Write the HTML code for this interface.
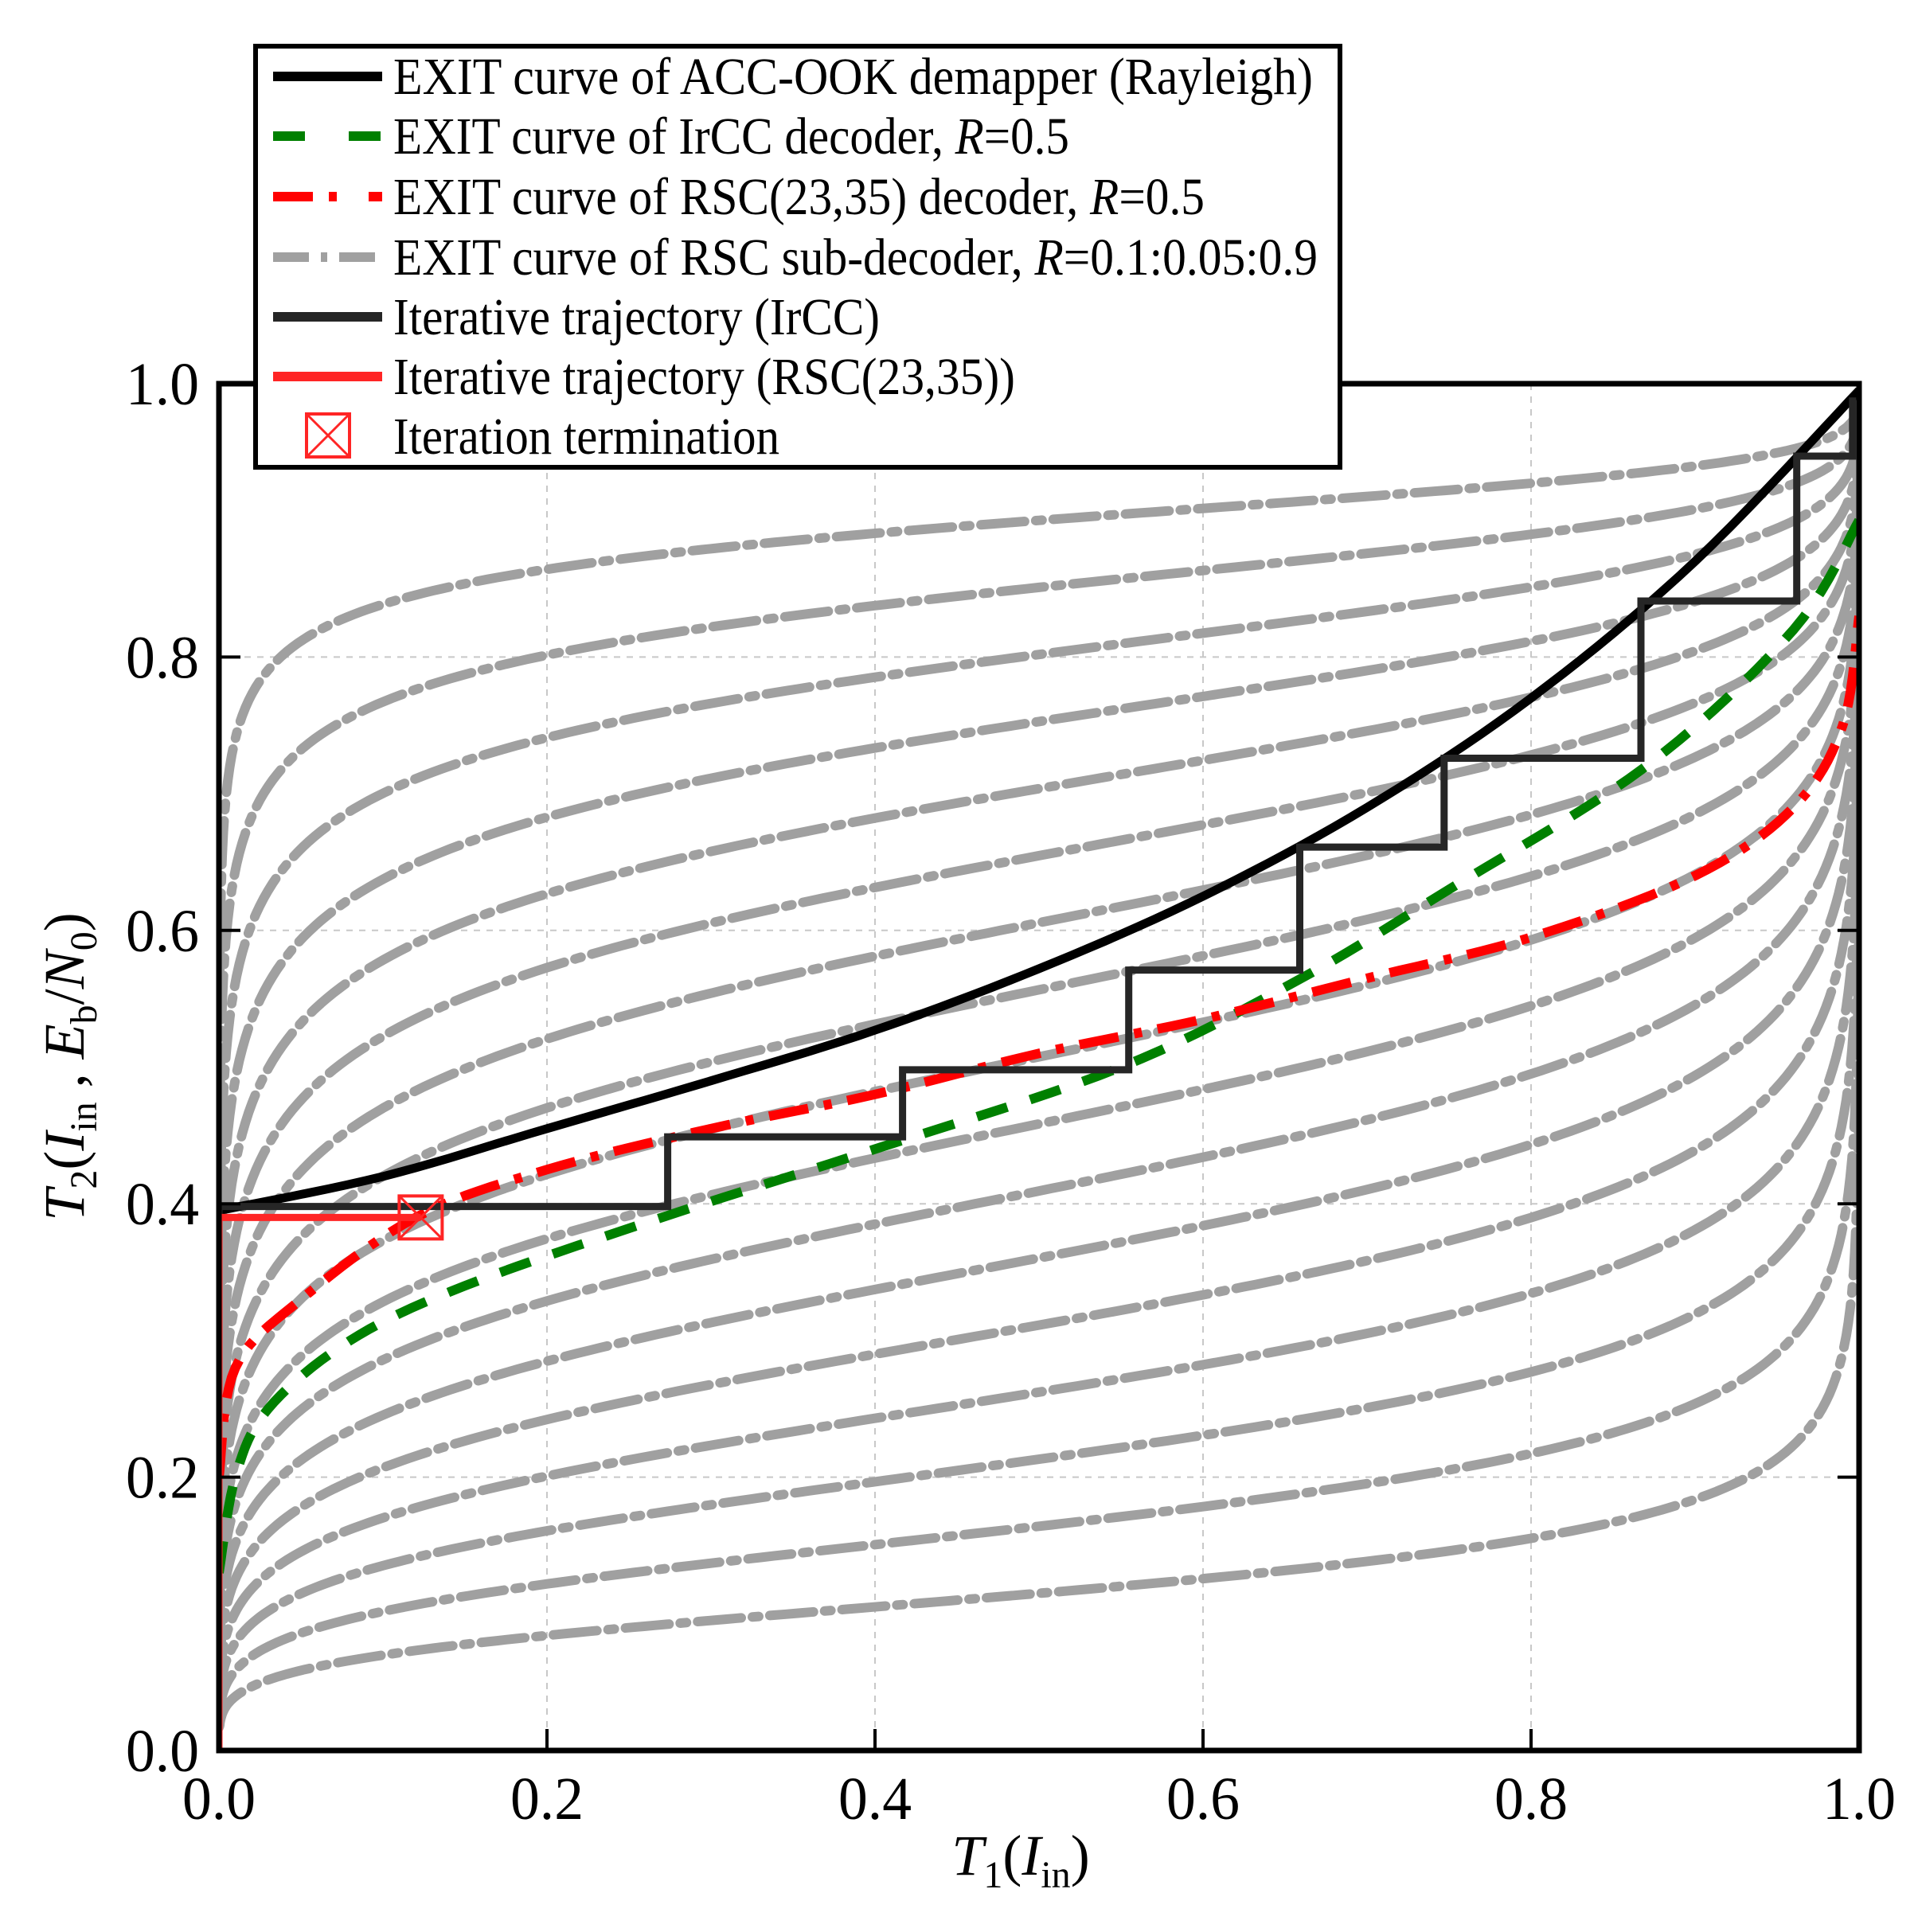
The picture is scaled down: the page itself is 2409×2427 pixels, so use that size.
<!DOCTYPE html>
<html><head><meta charset="utf-8"><style>
html,body{margin:0;padding:0;background:#fff}
svg{display:block}
text{font-family:"Liberation Serif",serif}
</style></head><body>
<svg id="s" width="2409" height="2427" xmlns="http://www.w3.org/2000/svg">
<defs><clipPath id="c"><rect x="275" y="482" width="2060" height="1717"/></clipPath></defs>
<g id="grid"></g>
<g id="curves" clip-path="url(#c)"></g>
<rect x="275" y="482" width="2060" height="1717" fill="none" stroke="#000" stroke-width="7"/>
<g id="ticks"></g>
<g font-size="76" text-anchor="end" id="ylab"></g>
<g font-size="76" text-anchor="middle" id="xlab"></g>
<text x="1282" y="2355" font-size="72" text-anchor="middle"><tspan font-style="italic">T</tspan><tspan font-size="48" dy="16">1</tspan><tspan dy="-16">(</tspan><tspan font-style="italic">I</tspan><tspan font-size="48" dy="16">in</tspan><tspan dy="-16">)</tspan></text>
<text transform="translate(105,1340) rotate(-90)" font-size="72" text-anchor="middle"><tspan font-style="italic">T</tspan><tspan font-size="48" dy="16">2</tspan><tspan dy="-16">(</tspan><tspan font-style="italic">I</tspan><tspan font-size="48" dy="16">in</tspan><tspan dy="-16"> , </tspan><tspan font-style="italic">E</tspan><tspan font-size="48" dy="16">b</tspan><tspan dy="-16">/</tspan><tspan font-style="italic">N</tspan><tspan font-size="48" dy="16">0</tspan><tspan dy="-16">)</tspan></text>
<g id="legend">
<rect x="321" y="58" width="1362" height="529" fill="#fff" stroke="#000" stroke-width="6"/>
<line x1="343" y1="96" x2="480" y2="96" stroke="#000" stroke-width="12"/>
<line x1="343" y1="171" x2="480" y2="171" stroke="#008000" stroke-width="12" stroke-dasharray="40 55"/>
<line x1="343" y1="247" x2="480" y2="247" stroke="#f00" stroke-width="12" stroke-dasharray="50 20 10 40"/>
<line x1="343" y1="323" x2="480" y2="323" stroke="#a0a0a0" stroke-width="12" stroke-dasharray="45 15 8 15 45"/>
<line x1="343" y1="398" x2="480" y2="398" stroke="#262626" stroke-width="12"/>
<line x1="343" y1="473" x2="480" y2="473" stroke="#ff2525" stroke-width="12"/>
<rect x="385" y="520" width="54" height="54" fill="none" stroke="#ff2525" stroke-width="4"/>
<path d="M385 520 L439 574 M439 520 L385 574" stroke="#ff2525" stroke-width="3"/>
<g font-size="66" lengthAdjust="spacingAndGlyphs">
<text x="494" y="118" textLength="1155" lengthAdjust="spacingAndGlyphs">EXIT curve of ACC-OOK demapper  (Rayleigh)</text>
<text x="494" y="193" textLength="849" lengthAdjust="spacingAndGlyphs">EXIT curve of IrCC decoder, <tspan font-style="italic">R</tspan>=0.5</text>
<text x="494" y="269" textLength="1019" lengthAdjust="spacingAndGlyphs">EXIT curve of RSC(23,35) decoder, <tspan font-style="italic">R</tspan>=0.5</text>
<text x="494" y="345" textLength="1161" lengthAdjust="spacingAndGlyphs">EXIT curve of RSC sub-decoder, <tspan font-style="italic">R</tspan>=0.1:0.05:0.9</text>
<text x="494" y="420" textLength="611" lengthAdjust="spacingAndGlyphs">Iterative trajectory (IrCC)</text>
<text x="494" y="495" textLength="781" lengthAdjust="spacingAndGlyphs">Iterative trajectory (RSC(23,35))</text>
<text x="494" y="570" textLength="485" lengthAdjust="spacingAndGlyphs">Iteration termination</text>
</g></g>
</svg>
<script>
var X0=275,W=2060,Y0=2199,H=1717,NS="http://www.w3.org/2000/svg";
function px(x){return X0+x*W}function py(y){return Y0-y*H}
function el(p,t,a,txt){var e=document.createElementNS(NS,t);for(var k in a)e.setAttribute(k,a[k]);if(txt)e.textContent=txt;document.getElementById(p).appendChild(e);return e}
function path(pts){return pts.map(function(p,i){return (i?"L":"M")+px(p[0]).toFixed(1)+" "+py(p[1]).toFixed(1)}).join("")}
for(var i=1;i<5;i++){var v=i*0.2;
el("grid","line",{x1:px(v),y1:482,x2:px(v),y2:2199,stroke:"#c8c8c8","stroke-width":2,"stroke-dasharray":"8 8"});
el("grid","line",{x1:275,y1:py(v),x2:2335,y2:py(v),stroke:"#c8c8c8","stroke-width":2,"stroke-dasharray":"8 8"});
el("ticks","line",{x1:px(v),y1:2199,x2:px(v),y2:2172,stroke:"#000","stroke-width":4});
el("ticks","line",{x1:275,y1:py(v),x2:302,y2:py(v),stroke:"#000","stroke-width":4});
el("ticks","line",{x1:2335,y1:py(v),x2:2308,y2:py(v),stroke:"#000","stroke-width":4});}
for(var i=0;i<=5;i++){var v=i*0.2,s=v.toFixed(1);
el("ylab","text",{x:250,y:py(v)+26,textLength:92,lengthAdjust:"spacingAndGlyphs"},s);
el("xlab","text",{x:px(v),y:2285,textLength:92,lengthAdjust:"spacingAndGlyphs"},s);}
var xs=[];for(var i=0;i<=200;i++){var t=i/200;xs.push(0.0004+0.9992*(0.5-0.5*Math.cos(Math.PI*t)));}
xs.unshift(0);xs.push(1);
for(var k=0;k<17;k++){var m=0.115+k*(0.9-0.115)/16,c=Math.log(m/(1-m)),b=0.25;
var pts=xs.map(function(x){var xx=Math.min(Math.max(x,0.0003),0.9997);var z=c+b*Math.log(xx/(1-xx));return [x,1/(1+Math.exp(-z))]});
el("curves","path",{d:path(pts),fill:"none",stroke:"#a0a0a0","stroke-width":12,"stroke-dasharray":"55 14 8 14","stroke-linecap":"round"});}
function smooth(p){var out=[];for(var i=0;i<p.length-1;i++){var p0=p[Math.max(i-1,0)],p1=p[i],p2=p[i+1],p3=p[Math.min(i+2,p.length-1)];for(var t=0;t<1;t+=0.1){var t2=t*t,t3=t2*t;out.push([0,1].map(function(j){return 0.5*((2*p1[j])+(-p0[j]+p2[j])*t+(2*p0[j]-5*p1[j]+4*p2[j]-p3[j])*t2+(-p0[j]+3*p1[j]-3*p2[j]+p3[j])*t3)}))}}out.push(p[p.length-1]);return out}
var green=[[0,0.13],[0.01,0.2],[0.03,0.25],[0.08,0.3],[0.15,0.34],[0.27,0.39],[0.4,0.44],[0.55,0.5],[0.66,0.565],[0.75,0.63],[0.87,0.72],[0.96,0.82],[1,0.9]];
el("curves","path",{d:path(smooth(green)),fill:"none",stroke:"#008000","stroke-width":12,"stroke-dasharray":"40 30"});
var red=[[0,0.2],[0.01,0.28],[0.05,0.33],[0.12,0.39],[0.2,0.425],[0.3,0.455],[0.4,0.48],[0.5,0.51],[0.6,0.535],[0.7,0.565],[0.8,0.595],[0.9,0.64],[0.96,0.69],[0.99,0.75],[1,0.83]];
el("curves","path",{d:path(smooth(red)),fill:"none",stroke:"#f00","stroke-width":12,"stroke-dasharray":"50 20 10 20"});
var acc=[[0,0.395],[0.1,0.42],[0.2,0.455],[0.3,0.49],[0.4,0.527],[0.5,0.572],[0.6,0.625],[0.7,0.69],[0.8,0.77],[0.9,0.87],[1,0.995]];
el("curves","path",{d:path(smooth(acc)),fill:"none",stroke:"#000","stroke-width":11});
var tr=[[0,0],[0,0.398],[0.2736,0.398],[0.2736,0.449],[0.4168,0.449],[0.4168,0.498],[0.5547,0.498],[0.5547,0.571],[0.659,0.571],[0.659,0.661],[0.747,0.661],[0.747,0.726],[0.867,0.726],[0.867,0.841],[0.962,0.841],[0.962,0.947],[0.996,0.947],[0.996,0.99]];
el("curves","path",{d:path(tr),fill:"none",stroke:"#262626","stroke-width":9});
el("curves","path",{d:path([[0,0],[0,0.39],[0.123,0.39]]),fill:"none",stroke:"#ff2525","stroke-width":9});
var mx=px(0.123),my=py(0.39);
el("curves","rect",{x:mx-27,y:my-27,width:54,height:54,fill:"none",stroke:"#ff2525","stroke-width":4});
el("curves","path",{d:"M"+(mx-27)+" "+(my-27)+"L"+(mx+27)+" "+(my+27)+"M"+(mx+27)+" "+(my-27)+"L"+(mx-27)+" "+(my+27),stroke:"#ff2525","stroke-width":3});
document.getElementById("s").appendChild(document.getElementById("legend"));
</script>
</body></html>
